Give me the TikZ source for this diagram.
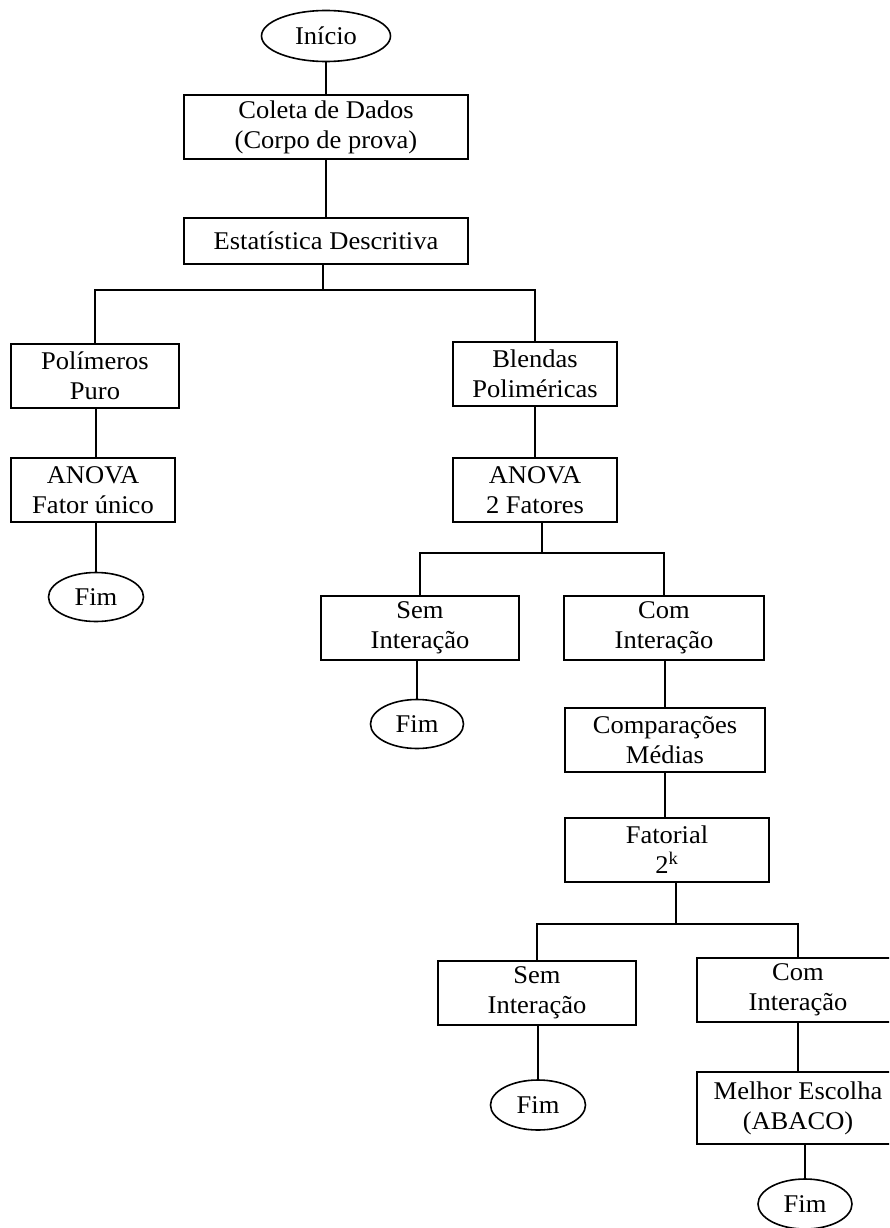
\documentclass[tikz,border=0pt]{standalone}
\usepackage{fontspec}
\setmainfont[FakeStretch=1.04]{Liberation Serif}
\usetikzlibrary{shapes.geometric}
\tikzset{
  x=1pt, y=-1pt,
  box/.style={draw, line width=1.1pt, align=center, inner sep=0pt,
    font=\fontsize{25.5}{30}\selectfont},
  term/.style={draw, ellipse, line width=1.6pt, inner sep=0pt,
    font=\fontsize{25.5}{30}\selectfont},
  conn/.style={line width=1.6pt}
}
\begin{document}
\begin{tikzpicture}
\useasboundingbox (0,0) rectangle (889,1228);
\clip (0,0) rectangle (889,1228);
% nodes
\node[term, minimum width=129pt, minimum height=51pt] (inicio) at (326,36) {Início};
\node[box, minimum width=284pt, minimum height=64pt] (coleta) at (326,127) {Coleta de Dados\\(Corpo de prova)};
\node[box, minimum width=284pt, minimum height=46pt] (estat) at (326,241) {Estatística Descritiva};
\node[box, minimum width=168pt, minimum height=64pt] (polim) at (95,376) {Polímeros\\Puro};
\node[box, minimum width=164pt, minimum height=64pt] (anova1) at (93,490) {ANOVA\\Fator único};
\node[term, minimum width=95pt, minimum height=49pt] (fim1) at (96,597) {Fim};
\node[box, minimum width=164pt, minimum height=64pt] (blendas) at (535,374) {Blendas\\Poliméricas};
\node[box, minimum width=164pt, minimum height=64pt] (anova2) at (535,490) {ANOVA\\2 Fatores};
\node[box, minimum width=198pt, minimum height=64pt] (sem1) at (420,628) {Sem\\Interação};
\node[box, minimum width=200pt, minimum height=64pt] (com1) at (664,628) {Com\\Interação};
\node[term, minimum width=93pt, minimum height=49pt] (fim2) at (417,724) {Fim};
\node[box, minimum width=200pt, minimum height=64pt] (comp) at (665,740) {Comparações\\Médias};
\node[box, minimum width=204pt, minimum height=64pt] (fat) at (667,850) {Fatorial\\2\textsuperscript{k}};
\node[box, minimum width=198pt, minimum height=64pt] (sem2) at (537,993) {Sem\\Interação};
\node[box, minimum width=202pt, minimum height=64pt] (com2) at (798,990) {Com\\Interação};
\node[term, minimum width=95pt, minimum height=50pt] (fim3) at (538,1105) {Fim};
\node[box, minimum width=202pt, minimum height=72pt] (melhor) at (798,1108) {Melhor Escolha\\(ABACO)};
\node[term, minimum width=94pt, minimum height=50pt] (fim4) at (805,1204) {Fim};
% bus points
\coordinate (b1) at (323,290);
\coordinate (b2) at (542,553);
\coordinate (b3) at (676,924);
% connectors
\draw[conn] (inicio.south) -- (inicio.south |- coleta.north);
\draw[conn] (coleta.south) -- (coleta.south |- estat.north);
\draw[conn] (estat.south -| b1) -- (b1);
\draw[conn] (polim.north) |- (b1) -| (blendas.north);
\draw[conn] (anova1.north -| fim1) -- (fim1.north |- polim.south);
\draw[conn] (fim1.north) -- (fim1.north |- anova1.south);
\draw[conn] (blendas.south) -- (blendas.south |- anova2.north);
\draw[conn] (anova2.south -| b2) -- (b2);
\draw[conn] (sem1.north) |- (b2) -| (com1.north);
\draw[conn] (fim2.north) -- (fim2.north |- sem1.south);
\draw[conn] (comp.north) -- (comp.north |- com1.south);
\draw[conn] (comp.south) -- (comp.south |- fat.north);
\draw[conn] (fat.south -| b3) -- (b3);
\draw[conn] (sem2.north) |- (b3) -| (com2.north);
\draw[conn] (fim3.north) -- (fim3.north |- sem2.south);
\draw[conn] (melhor.north) -- (melhor.north |- com2.south);
\draw[conn] (fim4.north) -- (fim4.north |- melhor.south);
\end{tikzpicture}
\end{document}
